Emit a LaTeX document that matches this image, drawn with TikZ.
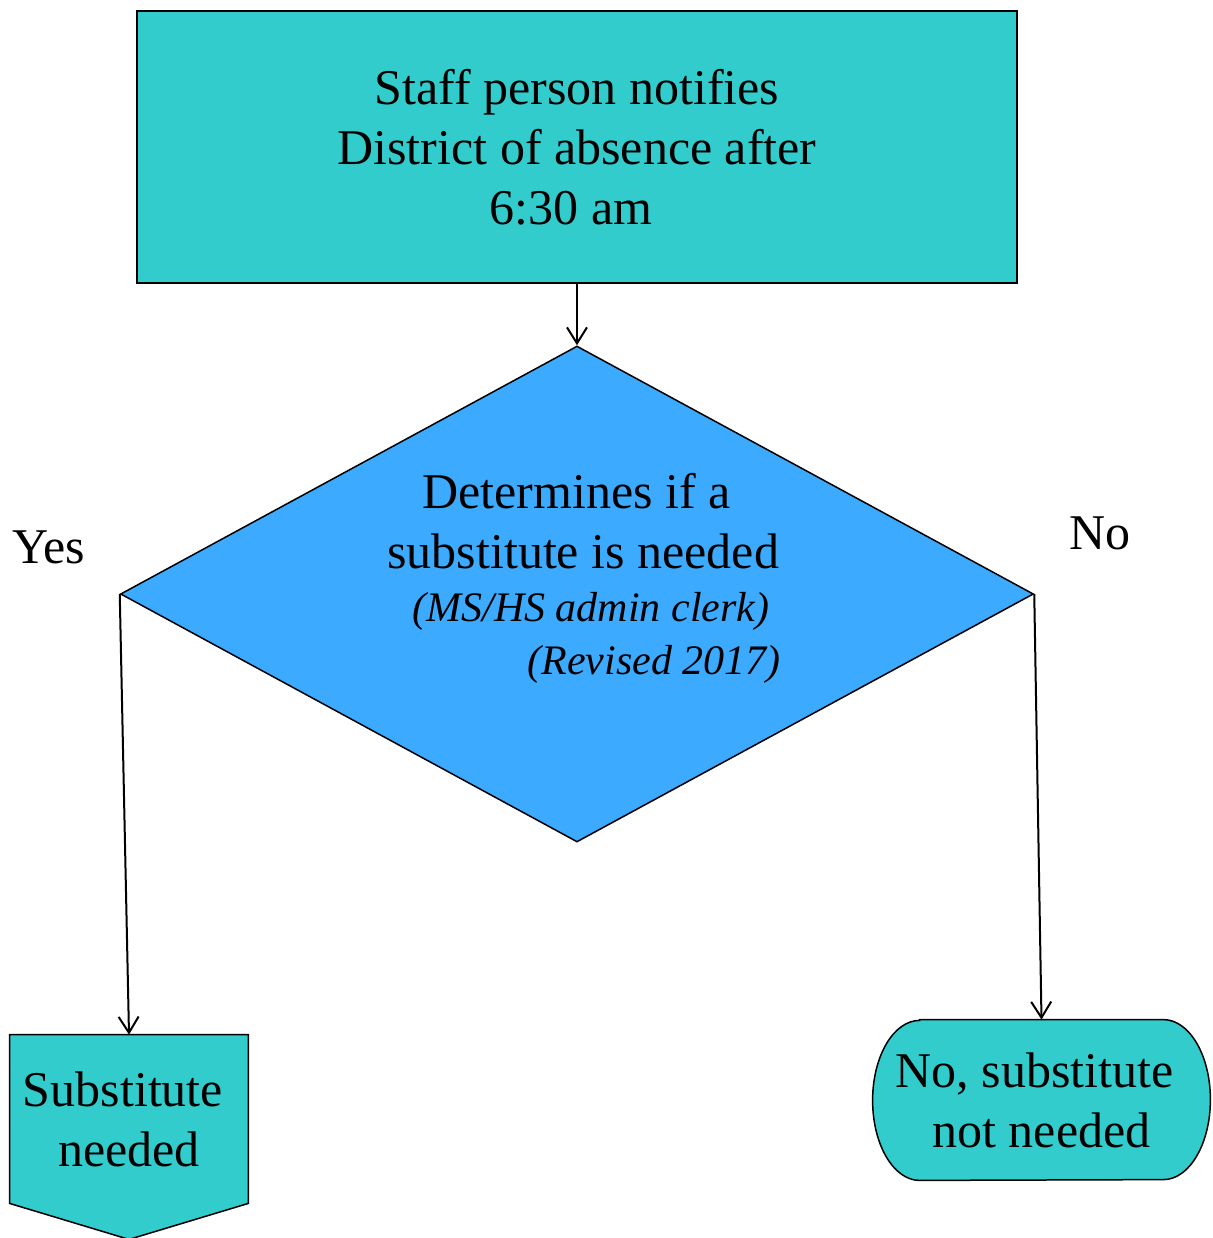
\documentclass[tikz,border=0pt]{standalone}
\usepackage{fontspec}
\setmainfont{Liberation Serif}
\usepackage{tikz}
\usetikzlibrary{arrows.meta, positioning, shapes.geometric, calc, backgrounds}
\definecolor{BoxTeal}{RGB}{51, 204, 204}
\definecolor{DecisionBlue}{RGB}{60, 170, 255}

\begin{document}
\begin{tikzpicture}[x=0.5pt, y=-0.5pt,
    flow/.style={-{Straight Barb[length=8pt, width=10pt]}, line width=1pt},
    bigtext/.style={font=\fontsize{25}{30}\selectfont},
    outline/.style={draw=black, line width=0.75pt},
  ]
  \useasboundingbox (0,0) rectangle (1212,1238);

  % start box
  \node[outline, fill=BoxTeal, minimum width=440pt, minimum height=136pt,
        bigtext, align=center] (notify) at (577,147)
        {Staff person notifies\\ District of absence after\\ 6:30 am\hspace*{6pt}};

  % decision
  \node[outline, fill=DecisionBlue, shape=diamond, inner sep=0pt,
        minimum width=456.5pt, minimum height=248pt] (decide) at (577,594) {};
  \node[bigtext, align=left, anchor=north west, inner sep=0pt] (decidetxt) at (387,473)
        {\hspace*{17.5pt}Determines if a\\
         substitute is needed\\[-3.5pt]
         {\fontsize{21}{26.5}\selectfont\itshape\hspace*{12.5pt}(MS/HS admin clerk)}\\[-3.5pt]
         {\fontsize{21}{26.5}\selectfont\itshape\hspace*{70pt}(Revised 2017)}};

  \node[bigtext, anchor=base] (yes) at (49,563) {Yes};
  \node[bigtext, anchor=base] (no) at (1100,549) {No};

  % outcomes
  \node[bigtext, align=center, minimum width=119pt, minimum height=84pt] (subst) at (129,1119)
        {Substitute\hspace*{6pt}\\ needed};
  \node[bigtext, align=center, minimum width=168.5pt, minimum height=80pt] (term) at (1041.5,1100)
        {No, substitute\hspace*{7pt}\\ not needed};

  \begin{scope}[on background layer]
    \filldraw[outline, fill=BoxTeal] (subst.north west) -- (subst.north east)
      -- (subst.south east) -- ($(subst.south)+(0,-18pt)$) -- (subst.south west) -- cycle;
    \filldraw[outline, fill=BoxTeal] ([xshift=23.5pt]term.north west) -- ([xshift=-23.5pt]term.north east)
      arc[start angle=90, end angle=-90, x radius=23.5pt, y radius=40pt]
      -- ([xshift=23.5pt]term.south west)
      arc[start angle=270, end angle=90, x radius=23.5pt, y radius=40pt] -- cycle;
  \end{scope}

  \draw[flow] (notify.south) -- (decide.north);
  \draw[flow] (decide.west) -- (subst.north);
  \draw[flow] (decide.east) -- (term.north);
\end{tikzpicture}
\end{document}
